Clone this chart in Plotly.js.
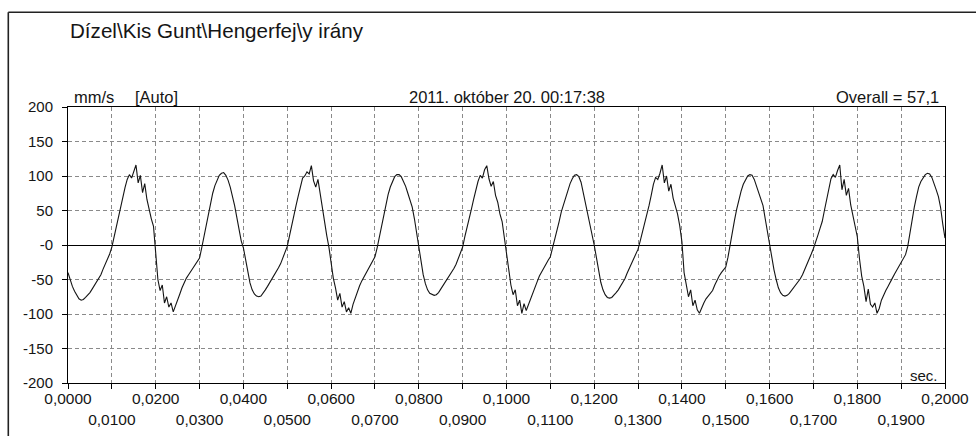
<!DOCTYPE html>
<html>
<head>
<meta charset="utf-8">
<script src="https://cdn.plot.ly/plotly-3.0.1.min.js"></script>
<style>html,body{margin:0;padding:0;background:#fff;}#chart{width:976px;height:436px;}</style>
</head>
<body>
<div id="chart"></div>
<script>
// ---- data: vibration velocity (mm/s) sampled every 0.0005 s ----
const startTime = 0;
const sampleInterval = 0.0005;
const seg0 = [-40, -52, -60, -67, -73, -78, -80, -79, -76, -73,
              -69, -64, -59, -54, -50, -43, -35, -28, -20, -13];
const cycle1 = [-3, 12, 28, 43, 56, 70, 83, 95, 102, 97,
                108, 116, 90, 101, 76, 89, 66, 50, 38, 27,
                -14, -50, -66, -58, -84, -75, -90, -84, -97, -89,
                -79, -71, -62, -54, -48, -43, -38, -33, -29, -25,
                -19, -4, 12, 30, 47, 62, 75, 86, 95, 101,
                104, 105, 101, 94, 84, 72, 57, 40, 22, 6,
                -4, -22, -40, -55, -65, -71, -74, -75, -74, -70,
                -65, -60, -55, -50, -45, -39, -33, -27, -19, -11];
const cycle2 = [-2, 13, 29, 44, 57, 71, 85, 97, 100, 106,
                103, 115, 93, 84, 95, 74, 58, 30, 14, -3,
                -30, -48, -62, -80, -70, -90, -82, -97, -91, -99,
                -86, -76, -66, -59, -52, -46, -40, -35, -29, -24,
                -17, -4, 12, 28, 45, 60, 73, 84, 93, 99,
                102, 102, 99, 93, 85, 75, 64, 55, 38, 18,
                -2, -24, -43, -56, -65, -70, -72, -73, -72, -69,
                -64, -59, -54, -50, -46, -40, -34, -28, -20, -11];
const cycle3 = [-3, 12, 27, 42, 52, 66, 80, 92, 101, 97,
                109, 115, 96, 85, 92, 72, 62, 45, 34, 10,
                -8, -40, -58, -72, -65, -88, -80, -99, -85, -95,
                -86, -78, -70, -61, -53, -45, -39, -32, -27, -22,
                -17, -5, 8, 22, 34, 48, 58, 68, 80, 89,
                96, 101, 102, 99, 91, 76, 63, 50, 34, 16,
                0, -18, -38, -54, -65, -72, -76, -77, -76, -73,
                -69, -65, -60, -56, -49, -41, -34, -28, -21, -15];
const cycle4 = [-6, 6, 18, 30, 42, 57, 72, 88, 98, 95,
                104, 116, 90, 100, 78, 88, 68, 58, 45, 28,
                5, -40, -60, -75, -65, -88, -80, -94, -99, -90,
                -84, -78, -74, -70, -66, -58, -51, -45, -40, -36,
                -32, -18, 2, 18, 36, 52, 66, 78, 88, 95,
                100, 102, 101, 95, 86, 76, 68, 57, 38, 18,
                2, -18, -36, -50, -62, -69, -73, -74, -73, -70,
                -66, -61, -57, -53, -49, -43, -36, -29, -20, -13];
const cycle5 = [-5, 6, 14, 24, 34, 50, 66, 82, 96, 102,
                98, 108, 116, 80, 95, 72, 82, 58, 42, 30,
                12, -20, -45, -60, -82, -64, -86, -90, -84, -99,
                -92, -80, -72, -66, -60, -55, -48, -42, -36, -31,
                -25, -20, -14, -2, 18, 36, 55, 70, 84, 92,
                98, 102, 104, 103, 98, 90, 80, 70, 54, 30,
                10];
const velocity = [].concat(seg0, cycle1, cycle2, cycle3, cycle4, cycle5);

// ---- tick labels ----
const yTickVals = [-200, -150, -100, -50, 0, 50, 100, 150, 200];
const yTickText = ['-200', '-150', '-100', '-50', '-0', '50', '100', '150', '200'];
const xTickValsRow1 = [0, 0.02, 0.04, 0.06, 0.08, 0.1, 0.12, 0.14, 0.16, 0.18, 0.2];
const xTickTextRow1 = ['0,0000', '0,0200', '0,0400', '0,0600', '0,0800', '0,1000',
                       '0,1200', '0,1400', '0,1600', '0,1800', '0,2000'];
const xTickValsRow2 = [0.01, 0.03, 0.05, 0.07, 0.09, 0.11, 0.13, 0.15, 0.17, 0.19];
const xTickTextRow2 = ['0,0100', '0,0300', '0,0500', '0,0700', '0,0900',
                       '0,1100', '0,1300', '0,1500', '0,1700', '0,1900'];

const titleText = 'Dízel\\Kis Gunt\\Hengerfej\\y irány';
const unitText = 'mm/s';
const modeText = '[Auto]';
const dateText = '2011. október 20. 00:17:38';
const overallText = 'Overall = 57,1';
const xUnitText = 'sec.';

// ---- layout ----
const FONT = 'Liberation Sans, Arial, sans-serif';
const TXT = '#151515';
const W = 976, H = 436, L = 68, R = 31, T = 107, B = 53;
const pw = W - L - R, ph = H - T - B;
const px = v => (v - L) / pw;        // pixel -> paper x
const py = v => (H - B - v) / ph;    // pixel -> paper y

const allXVals = xTickValsRow1.concat(xTickValsRow2);
const allXText = xTickTextRow1.concat(xTickValsRow2.map(() => ''));

const gridCol = '#8a8a8a';
const data = [
  {type: 'scatter', mode: 'lines', x0: startTime, dx: sampleInterval, y: velocity,
   line: {color: '#141414', width: 1.1}, hoverinfo: 'skip', showlegend: false},
  {type: 'scatter', mode: 'lines', x: [], y: [], xaxis: 'x2', yaxis: 'y',
   hoverinfo: 'skip', showlegend: false}
];

const layout = {
  width: W, height: H, autosize: false,
  margin: {l: L, r: R, t: T, b: B, pad: 0},
  paper_bgcolor: '#fff', plot_bgcolor: '#fff',
  showlegend: false,
  font: {family: FONT, color: TXT, size: 15},
  title: {text: titleText, font: {family: FONT, size: 20.6, color: TXT},
          xref: 'container', yref: 'container', x: 70 / W, xanchor: 'left',
          y: 1 - 31 / H, yanchor: 'middle'},
  xaxis: {range: [0, 0.2], tickmode: 'array', tickvals: allXVals, ticktext: allXText,
          ticks: 'outside', ticklen: 5, tickwidth: 1, tickcolor: '#000',
          showline: true, linecolor: '#000', linewidth: 1, mirror: true,
          showgrid: true, gridcolor: gridCol, gridwidth: 1, griddash: '4px,3px',
          zeroline: false, tickangle: 0, fixedrange: true, ticklabelstandoff: -4,
          tickfont: {family: FONT, size: 15.5, color: TXT}},
  xaxis2: {overlaying: 'x', anchor: 'y', side: 'bottom', range: [0, 0.2],
           tickmode: 'array', tickvals: xTickValsRow2, ticktext: xTickTextRow2,
           ticks: '', showgrid: false, zeroline: false, showline: false,
           tickangle: 0, ticklabelstandoff: 25, fixedrange: true,
           tickfont: {family: FONT, size: 15.5, color: TXT}},
  yaxis: {range: [-200, 200], tickmode: 'array', tickvals: yTickVals, ticktext: yTickText,
          ticks: 'outside', ticklen: 5, tickwidth: 1, tickcolor: '#000',
          showline: true, linecolor: '#000', linewidth: 1, mirror: true,
          showgrid: true, gridcolor: gridCol, gridwidth: 1, griddash: '4px,3px',
          zeroline: true, zerolinecolor: '#000', zerolinewidth: 1,
          ticklabelstandoff: 6, fixedrange: true,
          tickfont: {family: FONT, size: 15, color: TXT}},
  shapes: [
    {type: 'line', xref: 'paper', yref: 'paper', x0: px(8.3), x1: px(990), y0: py(12.3), y1: py(12.3),
     line: {color: '#222', width: 1.6}},
    {type: 'line', xref: 'paper', yref: 'paper', x0: px(8.3), x1: px(8.3), y0: py(12.3), y1: py(450),
     line: {color: '#222', width: 1.6}}
  ],
  annotations: [
    {text: unitText, xref: 'paper', yref: 'paper', x: px(73), y: 1, xanchor: 'left', yanchor: 'bottom',
     showarrow: false, borderpad: 0, font: {family: FONT, size: 16.5, color: TXT}},
    {text: modeText, xref: 'paper', yref: 'paper', x: px(134), y: 1, xanchor: 'left', yanchor: 'bottom',
     showarrow: false, borderpad: 0, font: {family: FONT, size: 16.5, color: TXT}},
    {text: dateText, xref: 'paper', yref: 'paper', x: 0.5, y: 1, xanchor: 'center', yanchor: 'bottom',
     showarrow: false, borderpad: 0, font: {family: FONT, size: 16.5, color: TXT}},
    {text: overallText, xref: 'paper', yref: 'paper', x: px(940), y: 1, xanchor: 'right', yanchor: 'bottom',
     showarrow: false, borderpad: 0, font: {family: FONT, size: 16.5, color: TXT}},
    {text: xUnitText, xref: 'paper', yref: 'paper', x: px(939), y: py(375), xanchor: 'right', yanchor: 'middle',
     showarrow: false, borderpad: 0, font: {family: FONT, size: 15, color: TXT}}
  ]
};

Plotly.newPlot('chart', data, layout, {displayModeBar: false, staticPlot: true});
</script>
</body>
</html>
